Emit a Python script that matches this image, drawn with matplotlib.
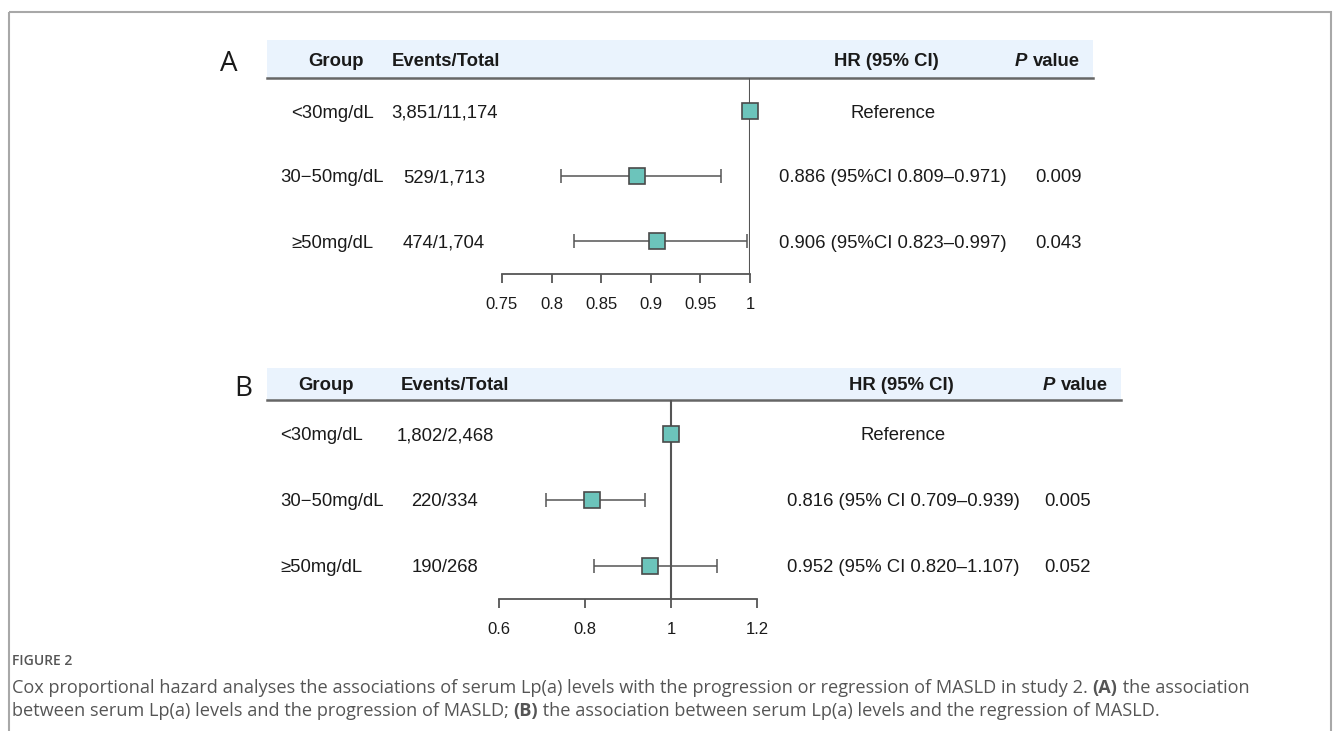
import numpy as np
import matplotlib
matplotlib.use("Agg")
import matplotlib.pyplot as plt
from matplotlib.patches import Rectangle

plt.rcParams['font.family'] = ['Liberation Sans', 'DejaVu Sans']

# data
groups = ["<30mg/dL", "30\u221250mg/dL", "\u226550mg/dL"]

a_events = ["3,851/11,174", "529/1,713", "474/1,704"]
a_hr = [1.0, 0.886, 0.906]
a_lo = [np.nan, 0.809, 0.823]
a_hi = [np.nan, 0.971, 0.997]
a_hr_text = ["Reference", "0.886 (95%CI 0.809\u20130.971)", "0.906 (95%CI 0.823\u20130.997)"]
a_p = ["", "0.009", "0.043"]
a_ticks = [0.75, 0.8, 0.85, 0.9, 0.95, 1]
a_ticklabels = ["0.75", "0.8", "0.85", "0.9", "0.95", "1"]

b_events = ["1,802/2,468", "220/334", "190/268"]
b_hr = [1.0, 0.816, 0.952]
b_lo = [np.nan, 0.709, 0.820]
b_hi = [np.nan, 0.939, 1.107]
b_hr_text = ["Reference", "0.816 (95% CI 0.709\u20130.939)", "0.952 (95% CI 0.820\u20131.107)"]
b_p = ["", "0.005", "0.052"]
b_ticks = [0.6, 0.8, 1, 1.2]
b_ticklabels = ["0.6", "0.8", "1", "1.2"]

caption1 = ("Cox proportional hazard analyses the associations of serum Lp(a) levels with the "
            "progression or regression of MASLD in study 2. ")
caption2a = "between serum Lp(a) levels and the progression of MASLD; "
caption2b = " the association between serum Lp(a) levels and the regression of MASLD."

W, H = 1333, 731
fig = plt.figure(figsize=(W / 100, H / 100), dpi=100)

# background axes in pixel coords for table text
bg = fig.add_axes([0, 0, 1, 1])
bg.set_xlim(0, W)
bg.set_ylim(H, 0)
bg.axis('off')

bg.add_patch(Rectangle((9, 12), 1322, 740, fill=False, ec='#a8a8a8', lw=1.5, clip_on=False))

fs = 13.3
fill = '#6cc4bb'
edge = '#4a4a4a'
lc = '#555555'
tc = '#1a1a1a'
dy = 2  # small nudge so text sits like the reference


def pax(left, top, right, bottom):
    return fig.add_axes([left / W, 1 - bottom / H, (right - left) / W, (bottom - top) / H])


def forest(ax, hr, lo, hi, xlim, ticks, ticklabels, ylim):
    rows = np.arange(len(hr))
    ax.set_xlim(*xlim)
    ax.set_ylim(*ylim)
    ax.axvline(1, color=lc, lw=1.5, zorder=1)
    lo = np.array(lo)
    hi = np.array(hi)
    hr = np.array(hr)
    ok = ~np.isnan(lo)
    ax.errorbar(hr[ok], rows[ok], xerr=[hr[ok] - lo[ok], hi[ok] - hr[ok]], fmt='none',
                ecolor=lc, elinewidth=1.1, capsize=5, capthick=1.1, zorder=2)
    ax.plot(hr, rows, 's', ms=12, mfc=fill, mec=edge, mew=1.2, zorder=3, clip_on=False)
    for s in ['top', 'right', 'left']:
        ax.spines[s].set_visible(False)
    ax.spines['bottom'].set_color(lc)
    ax.spines['bottom'].set_linewidth(1.3)
    ax.set_yticks([])
    ax.set_xticks(ticks)
    ax.set_xticklabels(ticklabels, fontsize=12, color=tc)
    ax.tick_params(axis='x', length=6.5, width=1.3, color=lc, pad=10)
    ax.patch.set_alpha(0)


def txt(x, y, s, **kw):
    kw.setdefault('fontsize', fs)
    kw.setdefault('va', 'center')
    kw.setdefault('color', tc)
    return bg.text(x, y + dy, s, **kw)


# ---------- panel A ----------
bg.add_patch(Rectangle((267, 40), 1093 - 267, 38, fc='#eaf3fd', ec='none'))
bg.plot([267, 1093], [78, 78], color='#666666', lw=1.8)
bg.text(229, 64, "A", fontsize=20, ha='center', va='center', family='Open Sans', color=tc)
y0 = 59
txt(336, y0, "Group", weight='bold', ha='center')
txt(446, y0, "Events/Total", weight='bold', ha='center')
txt(886, y0, "HR (95% CI)", weight='bold', ha='center')
txt(1015, y0, "P", weight='bold', style='italic', ha='left')
txt(1033, y0, "value", weight='bold', ha='left')
for i, y in enumerate([111, 176, 241]):
    txt(332, y, groups[i], ha='center')
    txt(444, y, a_events[i], ha='center')
    txt(893, y, a_hr_text[i], ha='center')
    txt(1082, y, a_p[i], ha='right')

axA = pax(502, 78, 750, 274)
forest(axA, a_hr, a_lo, a_hi, (0.75, 1.0), a_ticks, a_ticklabels, (2.508, -0.508))

# ---------- panel B ----------
bg.add_patch(Rectangle((267, 368), 1121 - 267, 32, fc='#eaf3fd', ec='none'))
bg.plot([267, 1121], [400, 400], color='#666666', lw=1.8)
bg.text(243, 389, "B", fontsize=20, ha='center', va='center', family='Open Sans', color=tc)
y0 = 384
txt(326, y0, "Group", weight='bold', ha='center')
txt(455, y0, "Events/Total", weight='bold', ha='center')
txt(901, y0, "HR (95% CI)", weight='bold', ha='center')
txt(1043, y0, "P", weight='bold', style='italic', ha='left')
txt(1061, y0, "value", weight='bold', ha='left')
for i, y in enumerate([434, 500, 566]):
    txt(280, y, groups[i], ha='left')
    txt(445, y, b_events[i], ha='center')
    txt(903, y, b_hr_text[i], ha='center')
    txt(1044, y, b_p[i], ha='left')

axB = pax(499, 400, 757, 599)
forest(axB, b_hr, b_lo, b_hi, (0.6, 1.2), b_ticks, b_ticklabels, (2.5, -0.515))

# ---------- caption ----------
cap = '#555555'
cfs = 13.1
bg.text(12, 661, "FIGURE 2", fontsize=10, weight='semibold', color=cap, ha='left', va='center',
        family='Open Sans')
fig.canvas.draw()
r = bg.transData.inverted()


def run(x, y, s, bold=False):
    t = bg.text(x, y, s, fontsize=cfs, color=cap, weight='bold' if bold else 'normal',
                ha='left', va='center', family='Open Sans')
    bb = t.get_window_extent(renderer=fig.canvas.get_renderer())
    return r.transform((bb.x1, 0))[0]


xe = run(12, 688, caption1)
xe = run(xe, 688, "(A)", bold=True)
run(xe, 688, " the association")
xe = run(12, 711, caption2a)
xe = run(xe, 711, "(B)", bold=True)
run(xe, 711, caption2b)

fig.savefig("out.png", dpi=100)
